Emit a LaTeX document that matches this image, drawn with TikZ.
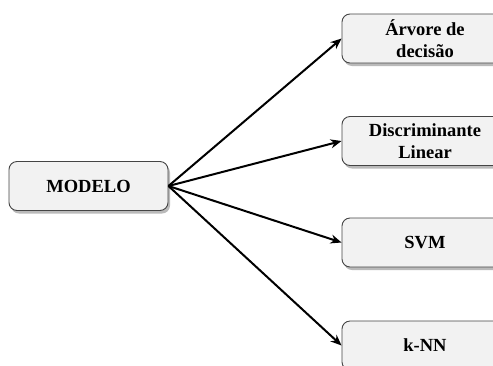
\documentclass[tikz,border=0pt]{standalone}
\usepackage{fontspec}
\setmainfont{Liberation Serif}
\usetikzlibrary{arrows.meta,shadows}
\definecolor{boxfill}{HTML}{F2F2F2}
\definecolor{boxline}{HTML}{454545}
\tikzset{
  card/.style={draw=boxline, line width=0.9pt, fill=boxfill, rounded corners=8pt,
    minimum height=49pt, align=center, inner sep=0pt,
    font=\fontsize{18.5pt}{22pt}\selectfont\bfseries,
    drop shadow={shadow xshift=2pt, shadow yshift=-3pt, fill=black!45, opacity=0.6}},
  link/.style={line width=2pt, -{Stealth[length=11pt,width=9pt]}}
}
\begin{document}
\begin{tikzpicture}[x=1pt,y=-1pt]
\useasboundingbox (0,0) rectangle (493,365);
\clip (0,0) rectangle (493,365);
\node[card, minimum width=159pt] (modelo) at (88.5,186) {MODELO};
\node[card, minimum width=166pt] (arv) at (425,38.5) {Árvore de\\decisão};
\node[card, minimum width=166pt] (disc) at (425,141) {Discriminante\\Linear};
\node[card, minimum width=166pt] (svm) at (425,242.5) {SVM};
\node[card, minimum width=166pt] (knn) at (425,345.5) {k-NN};
\foreach \t in {arv,disc,svm,knn}
  \draw[link] (modelo.east) -- (\t.west);
\end{tikzpicture}
\end{document}
